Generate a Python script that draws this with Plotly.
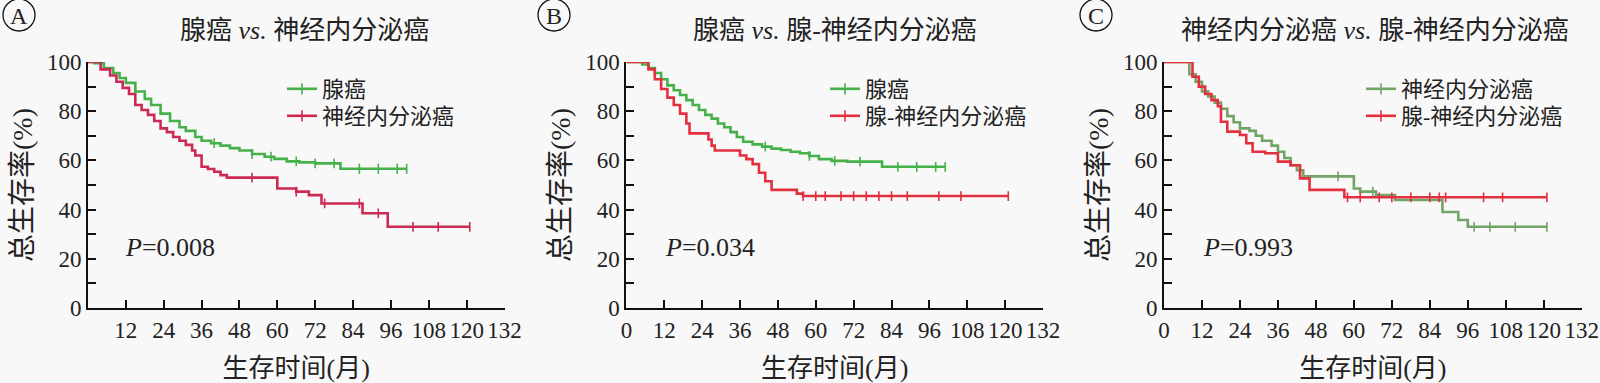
import numpy as np
import plotly.graph_objects as go

W, H = 1600, 383

# ---------------- data ----------------
# Panel A: 腺癌 vs. 神经内分泌癌
a_adeno_t = [0, 2, 5, 8, 10, 12, 15, 18, 20, 23, 26, 29, 31, 34, 36, 39, 42, 45, 48, 52, 56, 59, 63, 67, 72, 76, 80, 101]
a_adeno_s = [100, 99.5, 97.5, 95.5, 93.5, 91.5, 88, 85, 82.5, 79, 76, 73.5, 72, 69.5, 68, 67, 66, 65, 64, 62.6, 61.5, 60.6, 59.6, 59.2, 58.8, 58.8, 56.6, 56.6]
a_adeno_censor = [40, 52, 58, 66, 72, 78, 86, 92, 98, 101]
a_neuro_t = [0, 4, 7, 9, 11, 13, 15, 17, 19, 21, 23, 25, 27, 29, 31, 33, 34, 36, 38, 40, 42, 44, 60, 66, 70, 74, 87, 95, 121]
a_neuro_s = [100, 97, 94.5, 92, 89.5, 87, 82.5, 80.5, 78.5, 76, 73, 71.5, 69.5, 68, 66.3, 64, 62, 57.4, 56.5, 55.4, 54, 53, 48.6, 47.3, 45.9, 42.5, 38.5, 33, 33]
a_neuro_censor = [52, 66, 75, 86, 92, 103, 111, 121]

# Panel B: 腺癌 vs. 腺-神经内分泌癌
b_adeno_t = [0, 5, 7, 9, 11, 13, 15, 17, 19, 21, 23, 25, 27, 29, 31, 33, 35, 37, 40, 43, 46, 49, 52, 55, 58, 61, 65, 70, 81, 101]
b_adeno_s = [100, 99, 97.5, 95.5, 93, 90.5, 88.5, 86.6, 84.5, 82.5, 80.5, 78.5, 77, 75, 73.5, 71.5, 69.5, 67.6, 66.5, 65.6, 64.8, 64.2, 63.5, 62.9, 61.8, 60.5, 59.8, 59.5, 57.4, 57.4]
b_adeno_censor = [44, 58, 66, 74, 86, 92, 98, 101]
b_mixed_t = [0, 7, 9, 11, 13, 15, 17, 19, 20, 26, 27, 28, 36, 38, 40, 42, 44, 46, 54, 56, 121]
b_mixed_s = [100, 97, 93, 89, 85.5, 82.5, 79, 75, 71, 68.5, 66, 64, 62, 60.5, 58.5, 55, 51.5, 48, 46.5, 45.5, 45.5]
b_mixed_censor = [56, 60, 63, 68, 72, 76, 80, 84, 89, 99, 106, 121]

# Panel C: 神经内分泌癌 vs. 腺-神经内分泌癌
c_neuro_t = [0, 6, 8, 10, 12, 14, 16, 18, 20, 22, 24, 27, 29, 31, 34, 36, 38, 40, 42, 44, 60, 62, 67, 73, 88, 93, 96, 121]
c_neuro_s = [100, 100, 95, 92, 88, 86, 83.5, 81, 78, 75.5, 73, 72, 70, 68, 66, 63.5, 61, 58, 56, 53.5, 48.6, 47.3, 45.9, 43.9, 39, 35.8, 33, 33]
c_neuro_censor = [55, 66, 98, 103, 111, 121]
c_mixed_t = [0, 6, 9, 11, 13, 15, 17, 18, 20, 24, 26, 28, 32, 36, 40, 43, 46, 57, 121]
c_mixed_s = [100, 100, 94, 90, 87, 84.5, 82, 75.7, 71.7, 70.3, 67, 63.5, 62.9, 59.5, 58, 52.7, 48, 45, 45]
c_mixed_censor = [58, 62, 68, 72, 78, 84, 87, 89, 101, 107, 121]

x_tickvals = [0, 12, 24, 36, 48, 60, 72, 84, 96, 108, 120, 132]
x_ticktext_a = ["", "12", "24", "36", "48", "60", "72", "84", "96", "108", "120", "132"]
x_ticktext_bc = ["0", "12", "24", "36", "48", "60", "72", "84", "96", "108", "120", "132"]
y_tickvals = [0, 20, 40, 60, 80, 100]

titles = ["腺癌 <i>vs.</i> 神经内分泌癌", "腺癌 <i>vs.</i> 腺-神经内分泌癌", "神经内分泌癌 <i>vs.</i> 腺-神经内分泌癌"]
p_texts = ["<i>P</i>=0.008", "<i>P</i>=0.034", "<i>P</i>=0.993"]
letters = ["A", "B", "C"]
x_title = "生存时间(月)"
y_title = "总生存率(%)"

# ---------------- style / layout ----------------
SERIF = "Liberation Serif, Noto Sans CJK SC, serif"
TXT = "#222222"
GREEN = "#46b04a"
RED_A = "#cc2a52"
RED = "#e2303f"
CGREEN = "#72a468"

def fx(px):
    return px / W

def fy(py):
    return 1 - py / H

panels = [
    dict(x0=88, x1=504.5, ticktext=x_ticktext_a, leg_x=282, circle_x=19,
         title_x=304, p_x=170,
         series=[("腺癌", a_adeno_t, a_adeno_s, a_adeno_censor, GREEN),
                 ("神经内分泌癌", a_neuro_t, a_neuro_s, a_neuro_censor, RED_A)]),
    dict(x0=626.4, x1=1043, ticktext=x_ticktext_bc, leg_x=825, circle_x=554,
         title_x=835, p_x=710,
         series=[("腺癌", b_adeno_t, b_adeno_s, b_adeno_censor, GREEN),
                 ("腺-神经内分泌癌", b_mixed_t, b_mixed_s, b_mixed_censor, RED)]),
    dict(x0=1164, x1=1581.7, ticktext=x_ticktext_bc, leg_x=1361, circle_x=1096,
         title_x=1375, p_x=1248,
         series=[("神经内分泌癌", c_neuro_t, c_neuro_s, c_neuro_censor, CGREEN),
                 ("腺-神经内分泌癌", c_mixed_t, c_mixed_s, c_mixed_censor, RED)]),
]

Y_TOP, Y_BOT = 62, 308
LEG_ROW_TOPS = [68, 95]

fig = go.Figure()
layout = dict(
    width=W, height=H,
    margin=dict(l=0, r=0, t=0, b=0),
    paper_bgcolor="#f8f8f8", plot_bgcolor="#f8f8f8",
    font=dict(family=SERIF, color=TXT, size=22),
    showlegend=True,
)
annotations = []
shapes = []

def step_value(t_arr, s_arr, t):
    t_arr = np.asarray(t_arr, dtype=float)
    idx = np.searchsorted(t_arr, t, side="right") - 1
    return float(np.asarray(s_arr)[max(idx, 0)])

for i, p in enumerate(panels):
    n = "" if i == 0 else str(i + 1)
    xa, ya = "x" + n, "y" + n
    for j, (name, t, s, cens, col) in enumerate(p["series"]):
        k = 2 * i + j + 1
        leg = "legend" if k == 1 else "legend%d" % k
        fig.add_trace(go.Scatter(
            x=t, y=s, xaxis=xa, yaxis=ya, mode="lines", line=dict(color=col, width=2.6, shape="hv"),
            showlegend=False, legend=leg, hoverinfo="skip"))
        cy = [step_value(t, s, c) for c in cens]
        fig.add_trace(go.Scatter(
            x=cens, y=cy, xaxis=xa, yaxis=ya, mode="markers",
            marker=dict(symbol="line-ns", size=7, line=dict(width=1.6, color=col)),
            showlegend=False, legend=leg, hoverinfo="skip"))
        fig.add_trace(go.Scatter(
            x=[None], y=[None], xaxis=xa, yaxis=ya, mode="lines+markers", name=name,
            line=dict(color=col, width=2.6),
            marker=dict(symbol="line-ns", size=8, line=dict(width=1.6, color=col)),
            legend=leg))
        layout[leg] = dict(
            x=fx(p["leg_x"]), y=fy(LEG_ROW_TOPS[j]), xanchor="left", yanchor="top",
            bgcolor="rgba(0,0,0,0)", font=dict(family=SERIF, size=22, color=TXT),
            itemclick=False, itemdoubleclick=False,
        )

    layout["xaxis" + n] = dict(
        domain=[fx(p["x0"]), fx(p["x1"])], anchor=ya, range=[0, 132],
        tickmode="array", tickvals=x_tickvals, ticktext=p["ticktext"],
        ticks="inside", ticklen=8, tickwidth=2, tickcolor="#111",
        showline=True, linecolor="#111", linewidth=2, showgrid=False, zeroline=False,
        tickfont=dict(family=SERIF, size=23, color=TXT), automargin=False,
        title=dict(text=x_title, font=dict(family=SERIF, size=26, color=TXT), standoff=18),
    )
    layout["yaxis" + n] = dict(
        domain=[fy(Y_BOT), fy(Y_TOP)], anchor=xa, range=[0, 100],
        tickmode="array", tickvals=y_tickvals,
        ticks="inside", ticklen=8, tickwidth=2, tickcolor="#111",
        minor=dict(dtick=10, ticks="inside", ticklen=8, tickwidth=2, tickcolor="#111", showgrid=False),
        showline=True, linecolor="#111", linewidth=2, showgrid=False, zeroline=False,
        tickfont=dict(family=SERIF, size=23, color=TXT), automargin=False,
        title=dict(text=y_title, font=dict(family=SERIF, size=28, color=TXT), standoff=6),
    )
    annotations.append(dict(
        text=titles[i], xref="paper", yref="paper", x=fx(p["title_x"]), y=fy(31),
        xanchor="center", yanchor="middle", showarrow=False,
        font=dict(family=SERIF, size=26, color=TXT)))
    annotations.append(dict(
        text=p_texts[i], xref="paper", yref="paper", x=fx(p["p_x"]), y=fy(247),
        xanchor="center", yanchor="middle", showarrow=False,
        font=dict(family=SERIF, size=26, color=TXT)))
    cx = p["circle_x"]
    shapes.append(dict(type="circle", xref="paper", yref="paper",
                       x0=fx(cx - 16), x1=fx(cx + 16), y0=fy(31), y1=fy(-1),
                       line=dict(color="#111", width=1.3)))
    annotations.append(dict(
        text=letters[i], xref="paper", yref="paper", x=fx(cx), y=fy(15.5),
        xanchor="center", yanchor="middle", showarrow=False,
        font=dict(family=SERIF, size=24, color=TXT)))

layout["annotations"] = annotations
layout["shapes"] = shapes
fig.update_layout(**layout)
fig.write_html("out.html", config={"displayModeBar": False},
               post_script="document.body.style.margin='0';document.body.style.padding='0';")
